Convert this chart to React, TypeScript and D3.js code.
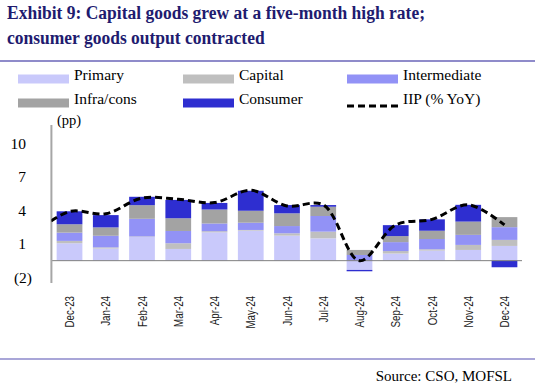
import React, { useEffect, useRef } from 'react';
import * as d3 from 'd3';

// month labels on the x axis
const months = ['Dec-23', 'Jan-24', 'Feb-24', 'Mar-24', 'Apr-24', 'May-24', 'Jun-24',
  'Jul-24', 'Aug-24', 'Sep-24', 'Oct-24', 'Nov-24', 'Dec-24'];

// contributions to IIP growth (pp)
const primary = [1.56, 1.09, 2.12, 1.05, 2.54, 2.69, 2.24, 2.0, -0.83, 0.64, 0.9, 0.96, 1.32];
const capital = [0.21, 0.1, 0.05, 0.51, 0.1, 0.06, 0.21, 0.6, 0.0, 0.22, 0.12, 0.45, 0.54];
const intermediate = [0.74, 1.04, 1.58, 1.1, 0.69, 0.65, 0.65, 1.4, 0.51, 0.8, 0.92, 0.9, 1.14];
const infraCons = [0.75, 0.75, 1.22, 1.14, 1.25, 1.07, 1.14, 0.83, 0.45, 0.54, 0.74, 1.19, 0.9];
const consumer = [1.16, 1.1, 0.75, 1.64, 0.59, 1.79, 0.74, 0.15, -0.12, 0.98, 1.02, 1.5, -0.59];

// headline IIP growth (% YoY); the Nov-23 point sits just outside the plot and gets clipped
const iip = [4.4, 4.2, 5.6, 5.5, 5.2, 6.3, 4.9, 5.0, 0.0, 3.2, 3.7, 5.0, 3.2];
const iipNov23 = 2.4;

const yTicks = [10, 7, 4, 1, -2];

const seriesNames = ['Primary', 'Capital', 'Intermediate', 'Infra/cons', 'Consumer'];
const seriesValues = [primary, capital, intermediate, infraCons, consumer];
const seriesColors = ['#c9c9fb', '#bfbfbf', '#9292f6', '#a3a3a3', '#2e2ed0'];

function App() {
  const ref = useRef<SVGSVGElement>(null);

  useEffect(() => {
    const svg = d3.select(ref.current);
    svg.selectAll('*').remove();

    const serif = '"Liberation Serif", "Times New Roman", serif';
    const sans = '"Liberation Sans", Arial, sans-serif';

    // title (source image is a bit stretched vertically)
    const title = svg.append('text')
      .attr('transform', 'scale(1,1.08)')
      .attr('font-family', serif)
      .attr('font-weight', 'bold')
      .attr('font-size', 17.5)
      .attr('fill', '#211b6f');
    title.append('tspan').attr('x', 7).attr('y', 18)
      .text('Exhibit 9: Capital goods grew at a five-month high rate;');
    title.append('tspan').attr('x', 7).attr('y', 40.5)
      .text('consumer goods output contracted');

    svg.append('line')
      .attr('x1', 0).attr('x2', 535).attr('y1', 61).attr('y2', 61)
      .attr('stroke', '#8f8bca').attr('stroke-width', 2);

    // legend
    const legendItems = [
      ...seriesNames.map((n, i) => ({ name: n, color: seriesColors[i], dash: false })),
      { name: 'IIP (% YoY)', color: '#000', dash: true },
    ];
    const colX = [18, 183, 347];
    const rowY = [79, 103];
    legendItems.forEach((d, i) => {
      const cx = colX[i % 3];
      const cy = rowY[Math.floor(i / 3)];
      if (d.dash) {
        svg.append('line')
          .attr('x1', cx).attr('x2', cx + 51).attr('y1', cy + 3).attr('y2', cy + 3)
          .attr('stroke', '#000').attr('stroke-width', 3).attr('stroke-dasharray', '7,4');
      } else {
        svg.append('rect')
          .attr('x', cx).attr('y', cy - 4.5).attr('width', 51).attr('height', 9)
          .attr('fill', d.color);
      }
      svg.append('text')
        .attr('x', cx + 56).attr('y', cy + 1)
        .attr('font-family', serif).attr('font-size', 15.5)
        .text(d.name);
    });

    // scales
    const x = d3.scaleBand<string>()
      .domain(months)
      .range([51.4, 522.6])
      .paddingInner(0.29)
      .paddingOuter(0.145);

    const y = d3.scaleLinear()
      .domain([-2, 10])
      .range([283, 149]);

    svg.append('text')
      .attr('x', 57).attr('y', 125)
      .attr('font-family', serif).attr('font-size', 14.5)
      .text('(pp)');

    // stacked bars
    const table = months.map((m, i) => {
      const row: any = { month: m };
      seriesNames.forEach((n, k) => { row[n] = seriesValues[k][i]; });
      return row;
    });
    const stacked = d3.stack()
      .keys(seriesNames)
      .offset(d3.stackOffsetDiverging)(table);

    const g = svg.append('g');
    g.selectAll('g.layer')
      .data(stacked)
      .join('g')
      .attr('fill', (d, i) => seriesColors[i])
      .selectAll('rect')
      .data(d => d)
      .join('rect')
      .attr('x', (d: any) => x(d.data.month)!)
      .attr('width', x.bandwidth())
      .attr('y', d => y(Math.max(d[0], d[1])))
      .attr('height', d => Math.abs(y(d[0]) - y(d[1])));

    // axis lines
    svg.append('line')
      .attr('x1', 51.4).attr('x2', 522).attr('y1', y(0)).attr('y2', y(0))
      .attr('stroke', '#7f7f7f').attr('stroke-width', 1);
    svg.append('line')
      .attr('x1', 51.4).attr('x2', 51.4).attr('y1', 125).attr('y2', y(-2))
      .attr('stroke', '#a6a6a6').attr('stroke-width', 2);

    // y tick labels, negatives in brackets
    svg.append('g')
      .selectAll('text')
      .data(yTicks)
      .join('text')
      .attr('x', d => (d < 0 ? 32 : 26))
      .attr('y', d => y(d) - 5.5)
      .attr('dy', '0.35em')
      .attr('text-anchor', 'end')
      .attr('font-family', serif).attr('font-size', 15.5)
      .text(d => (d < 0 ? `(${Math.abs(d)})` : `${d}`));

    // IIP line
    const step = x.step();
    const linePts = [
      { cx: x(months[0])! + x.bandwidth() / 2 - step, v: iipNov23 },
      ...months.map((m, i) => ({ cx: x(m)! + x.bandwidth() / 2, v: iip[i] })),
    ];
    svg.append('clipPath').attr('id', 'plotclip')
      .append('rect').attr('x', 51.4).attr('y', 100).attr('width', 472).attr('height', 200);
    const line = d3.line<{ cx: number; v: number }>()
      .x(d => d.cx)
      .y(d => y(d.v))
      .curve(d3.curveCatmullRom.alpha(0.5));
    svg.append('path')
      .datum(linePts)
      .attr('clip-path', 'url(#plotclip)')
      .attr('fill', 'none')
      .attr('stroke', '#000')
      .attr('stroke-width', 3)
      .attr('stroke-dasharray', '7,4')
      .attr('d', line);

    // x labels, rotated (narrow Calibri-like look)
    svg.append('g')
      .selectAll('text')
      .data(months)
      .join('text')
      .attr('transform', d => `translate(${x(d)! + x.bandwidth() / 2},296) rotate(-90) scale(0.75,1)`)
      .attr('text-anchor', 'end')
      .attr('dy', '0.36em')
      .attr('font-family', sans).attr('font-size', 13)
      .attr('fill', '#222')
      .text(d => d);

    // footer
    svg.append('line')
      .attr('x1', 0).attr('x2', 535).attr('y1', 359).attr('y2', 359)
      .attr('stroke', '#a9a6d8').attr('stroke-width', 2);
    svg.append('text')
      .attr('x', 512).attr('y', 381)
      .attr('text-anchor', 'end')
      .attr('font-family', serif).attr('font-size', 15)
      .text('Source: CSO, MOFSL');
  }, []);

  return (
    <div style={{ position: 'absolute', left: 0, top: 0 }}>
      <svg ref={ref} width={535} height={385} style={{ display: 'block', background: '#fff' }} />
    </div>
  );
}

export default App;
